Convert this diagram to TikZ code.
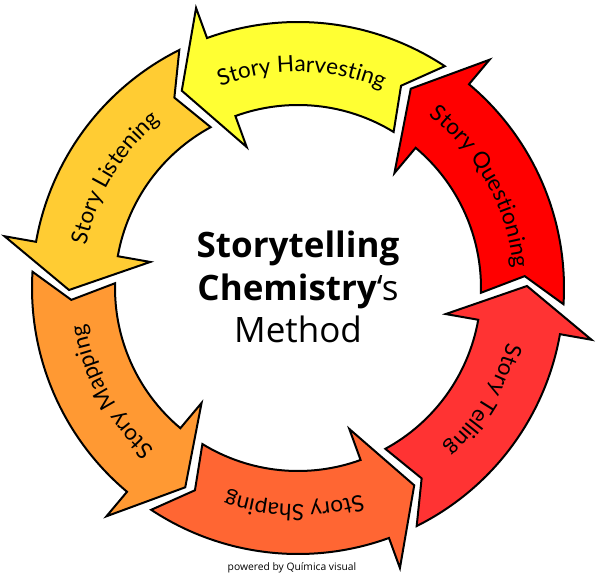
\documentclass[tikz,border=0pt]{standalone}
\usepackage{fontspec}
\setmainfont{Open Sans}
\newfontfamily\handfont{Lato}
\newfontfamily\titlefont{Open Sans}
\usetikzlibrary{decorations.text}
\definecolor{cHarv}{HTML}{FFFF33}
\definecolor{cQues}{HTML}{FF0000}
\definecolor{cTell}{HTML}{FF3333}
\definecolor{cShap}{HTML}{FF6633}
\definecolor{cMapp}{HTML}{FF9933}
\definecolor{cList}{HTML}{FFCC33}
\tikzset{
  cyclearrow/.style={draw=black, line width=2pt, line join=miter, miter limit=20},
  centertext/.style={anchor=base, inner sep=0pt, font=\titlefont\fontsize{35}{40}\selectfont},
}
\newcommand\cycarrow[3]{%
  \pgfmathsetmacro\aTail{#1}%
  \pgfmathsetmacro\aIn{#1+2}%
  \pgfmathsetmacro\aNotch{#1+6.5}%
  \pgfmathsetmacro\aBase{#1+53.5}%
  \pgfmathsetmacro\aTip{#1+64}%
  \pgfmathsetmacro\aTs{#1+72.5}%
  \pgfmathsetmacro\aTe{#1-7.5}%
  \fill[#2, cyclearrow] (\aTail:266) arc[start angle=\aTail, end angle=\aBase, radius=266]
    -- (\aBase:298) -- (\aTip:229) -- (\aBase:150) -- (\aBase:183)
    arc[start angle=\aBase, end angle=\aIn, radius=183] -- (\aNotch:227) -- cycle;
  \path[decorate, decoration={text along path, text align=center,
     text={|\handfont\fontsize{22.5}{26}\selectfont|#3}}]
     (\aTs:216) arc[start angle=\aTs, end angle=\aTe, radius=216];
}
\begin{document}
\begin{tikzpicture}[x=1pt, y=1pt]
\path[use as bounding box, fill=white] (0,0) rectangle (596,579);
\begin{scope}[shift={(298,291)}]
  \cycarrow{-3.5}{cQues}{Story Questioning}
  \cycarrow{56.5}{cHarv}{Story Harvesting}
  \cycarrow{116.5}{cList}{Story Listening}
  \cycarrow{176.5}{cMapp}{Story Mapping}
  \cycarrow{236.5}{cShap}{Story Shaping}
  \cycarrow{296.5}{cTell}{Story Telling}
\end{scope}
\node[centertext] (t1) at (298,322) {\bfseries Storytelling};
\node[centertext] (t2) at (298,279) {\textbf{Chemistry}‘s};
\node[centertext] (t3) at (298,237) {Method};
\node[anchor=base, inner sep=0pt, font=\titlefont\fontsize{10.3}{12}\selectfont] (pw) at (292,9) {powered by Química visual};
\end{tikzpicture}
\end{document}
